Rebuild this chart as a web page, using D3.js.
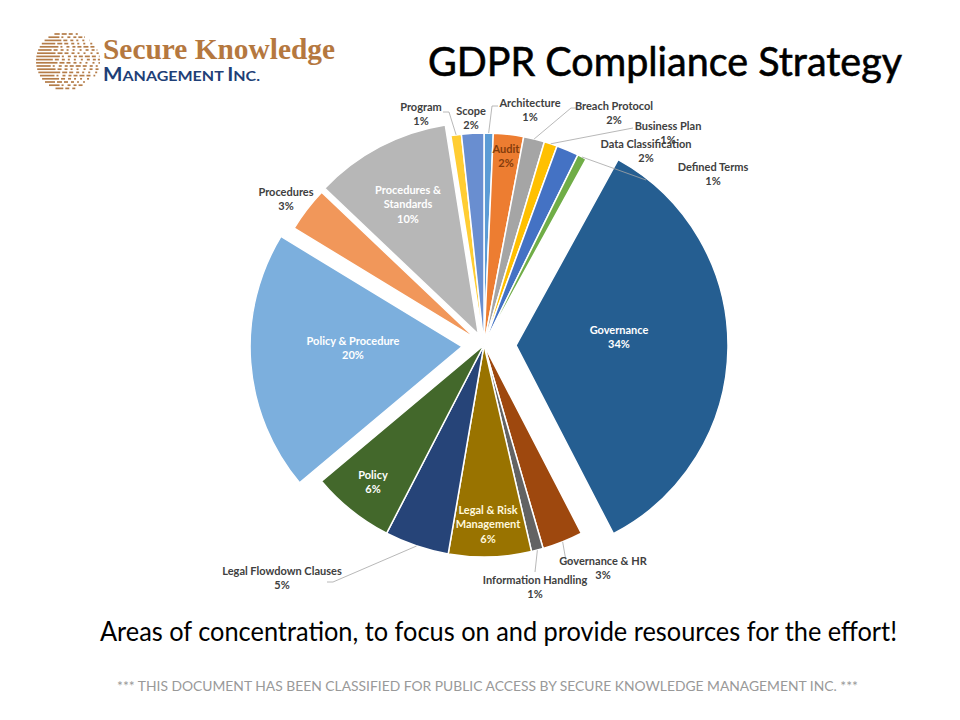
<!DOCTYPE html>
<html>
<head>
<meta charset="utf-8">
<script src="https://cdn.jsdelivr.net/npm/d3@7"></script>
<style>
body { margin: 0; background: #fff; }
</style>
</head>
<body>
<script>
// chart data (share of effort, in %)
var categories = ["Architecture", "Audit", "Breach Protocol", "Business Plan", "Data Classification",
	"Defined Terms", "Governance", "Governance & HR", "Information Handling", "Legal & Risk Management",
	"Legal Flowdown Clauses", "Policy", "Policy & Procedure", "Procedures", "Procedures & Standards",
	"Program", "Scope"];
var shares = [0.7, 2.3, 1.6, 1.0, 1.7, 0.7, 34.4, 3.1, 0.9, 6.3, 4.9, 6.3, 19.8, 3.4, 10.4, 0.8, 1.7];

var colors = ["#5b9bd5", "#ed7d31", "#a5a5a5", "#ffc000", "#4472c4", "#70ad47", "#255e91", "#9e480e",
	"#636363", "#997300", "#264478", "#43682b", "#7cafdd", "#f1975a", "#b7b7b7", "#ffcd33", "#698ed0"];

var w = 960;
var h = 720;
var cx = 484, cy = 345, radius = 212;

// slices pulled out of the pie, and by how much
var explode = {"Governance": 32, "Policy & Procedure": 22, "Procedures": 11, "Procedures & Standards": 12};

// where each data label sits (centre of its first line)
var labelAt = {
	"Architecture": [530, 103],
	"Audit": [506, 149],
	"Breach Protocol": [614, 106],
	"Business Plan": [668, 126],
	"Data Classification": [646, 144],
	"Defined Terms": [713, 167],
	"Governance": [619, 330],
	"Governance & HR": [603, 561],
	"Information Handling": [535, 580],
	"Legal & Risk Management": [488, 510],
	"Legal Flowdown Clauses": [282, 571],
	"Policy": [373, 475],
	"Policy & Procedure": [353, 341],
	"Procedures": [286, 192],
	"Procedures & Standards": [408, 190],
	"Program": [421, 107],
	"Scope": [471, 111]
};
var labelLines = {
	"Procedures & Standards": ["Procedures &", "Standards"],
	"Legal & Risk Management": ["Legal & Risk", "Management"]
};
var labelColor = {
	"Governance": "#fff", "Policy & Procedure": "#fff", "Procedures & Standards": "#fff",
	"Policy": "#fff", "Legal & Risk Management": "#fff8dc", "Audit": "#843c0c"
};
// leader line bends, the line starts on the slice edge
var leaderTo = {
	"Program": [[449, 112], [443, 112]],
	"Architecture": [[492, 106], [498, 106]],
	"Breach Protocol": [[571, 108], [577, 108]],
	"Business Plan": [[633, 128]],
	"Defined Terms": [[646, 180]],
	"Governance & HR": [[566, 561], [572, 561]],
	"Information Handling": [[535, 572]],
	"Legal Flowdown Clauses": [[333, 582], [327, 582]]
};

var svg = d3.select("body")
	.append("svg")
	.attr("width", w)
	.attr("height", h);

svg.append("rect").attr("width", w).attr("height", h).attr("fill", "#fff");

// ---- logo ----
var logo = svg.append("g");
var lcx = 65, lcy = 61, lr = 29;
var dashPattern = [5, 2, 4, 3, 3, 3, 2, 4, 2];
d3.range(18).forEach(function(i)
{
	var y = 34 + i * 3.2;
	var half = Math.sqrt(Math.max(lr * lr - (y - lcy) * (y - lcy), 0));
	var x = lcx - half;
	var end = lcx + half + 6 * (half / lr);
	var solid = half * (0.5 + ((i * 7) % 5) * 0.08);
	logo.append("line")
		.attr("x1", x).attr("x2", x + solid)
		.attr("y1", y).attr("y2", y)
		.attr("stroke", "#b47c48").attr("stroke-width", 1.7);
	x += solid + 2;
	var k = i % 3;
	while (x < end)
	{
		var len = dashPattern[k % dashPattern.length];
		var gap = dashPattern[(k + 1) % dashPattern.length];
		logo.append("line")
			.attr("x1", x).attr("x2", Math.min(x + len, end))
			.attr("y1", y).attr("y2", y)
			.attr("stroke", "#b47c48").attr("stroke-width", 1.7);
		x += len + gap;
		k += 2;
	}
});

logo.append("text")
	.attr("x", 103).attr("y", 59)
	.attr("font-family", "Liberation Serif")
	.attr("font-weight", "bold")
	.attr("font-size", 29)
	.attr("fill", "#b5783f")
	.attr("textLength", 232)
	.attr("lengthAdjust", "spacingAndGlyphs")
	.text("Secure Knowledge");

var mgmt = logo.append("text")
	.attr("x", 103).attr("y", 81)
	.attr("font-family", "Lato")
	.attr("font-weight", "bold")
	.attr("fill", "#1f3f77")
	.attr("textLength", 157)
	.attr("lengthAdjust", "spacingAndGlyphs");
mgmt.append("tspan").attr("font-size", 18).text("M");
mgmt.append("tspan").attr("font-size", 14).text("ANAGEMENT ");
mgmt.append("tspan").attr("font-size", 18).text("I");
mgmt.append("tspan").attr("font-size", 14).text("NC.");

// ---- titles ----
svg.append("text")
	.attr("x", 428).attr("y", 76)
	.attr("font-family", "Lato")
	.attr("font-size", 40)
	.attr("fill", "#000")
	.attr("stroke", "#000")
	.attr("stroke-width", 0.6)
	.attr("textLength", 474)
	.attr("lengthAdjust", "spacingAndGlyphs")
	.text("GDPR Compliance Strategy");

svg.append("text")
	.attr("x", 100).attr("y", 641)
	.attr("font-family", "Lato")
	.attr("font-size", 26)
	.attr("fill", "#000")
	.attr("textLength", 797)
	.attr("lengthAdjust", "spacingAndGlyphs")
	.text("Areas of concentration, to focus on and provide resources for the effort!");

svg.append("text")
	.attr("x", 117).attr("y", 691)
	.attr("font-family", "Lato")
	.attr("font-size", 14)
	.attr("fill", "#999")
	.attr("textLength", 741)
	.attr("lengthAdjust", "spacingAndGlyphs")
	.text("*** THIS DOCUMENT HAS BEEN CLASSIFIED FOR PUBLIC ACCESS BY SECURE KNOWLEDGE MANAGEMENT INC. ***");

// ---- pie ----
var data = categories.map(function(c, i) { return {name: c, value: shares[i], color: colors[i]}; });
var total = d3.sum(shares);

var pie = d3.pie().sort(null).value(function(d) { return d.value; });
var arc = d3.arc().innerRadius(0).outerRadius(radius);
var arcs = pie(data);

var chart = svg.append("g").attr("transform", "translate(" + cx + "," + cy + ")");

chart.selectAll("path")
	.data(arcs)
	.enter()
	.append("path")
	.attr("d", arc)
	.attr("fill", function(d) { return d.data.color; })
	.attr("stroke", "#fff")
	.attr("stroke-width", 1.5)
	.attr("transform", function(d)
	{
		var off = explode[d.data.name] || 0;
		var mid = (d.startAngle + d.endAngle) / 2;
		return "translate(" + (Math.sin(mid) * off) + "," + (-Math.cos(mid) * off) + ")";
	});

// leader lines
var line = d3.line();
arcs.forEach(function(d)
{
	var bends = leaderTo[d.data.name];
	if (!bends) return;
	var mid = (d.startAngle + d.endAngle) / 2;
	var pts = [[cx + Math.sin(mid) * radius, cy - Math.cos(mid) * radius]].concat(bends);
	svg.append("path")
		.attr("d", line(pts))
		.attr("fill", "none")
		.attr("stroke", "#a6a6a6")
		.attr("stroke-width", 0.8);
});

// data labels
arcs.forEach(function(d)
{
	var name = d.data.name;
	var pos = labelAt[name];
	var lines = (labelLines[name] || [name]).concat([Math.round(d.data.value / total * 100) + "%"]);
	var t = svg.append("text")
		.attr("text-anchor", "middle")
		.attr("font-family", "Lato")
		.attr("font-weight", "bold")
		.attr("font-size", 11)
		.attr("fill", labelColor[name] || "#404040");
	lines.forEach(function(s, j)
	{
		t.append("tspan")
			.attr("x", pos[0])
			.attr("y", pos[1] + j * 14.5)
			.attr("dy", "0.35em")
			.text(s);
	});
});
</script>
</body>
</html>
